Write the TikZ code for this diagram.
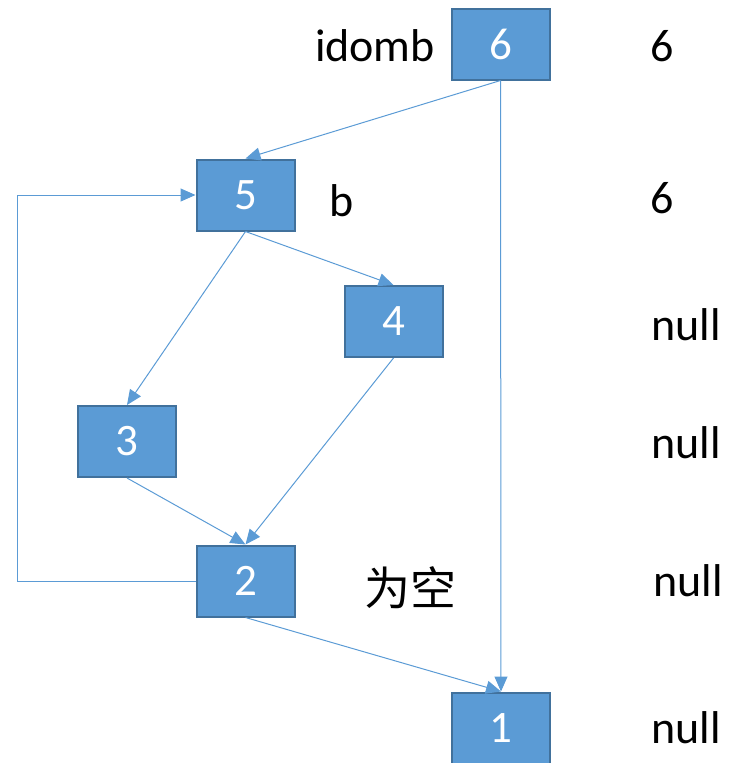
\documentclass[tikz,border=0pt]{standalone}
\usepackage{fontspec}
\setmainfont{Carlito}
\newfontfamily\cjk{Noto Sans CJK SC}
\usetikzlibrary{arrows.meta}
\definecolor{boxfill}{HTML}{5B9BD5}
\definecolor{boxedge}{HTML}{41719C}
\begin{document}
\begin{tikzpicture}[x=1pt,y=-1pt,
  blk/.style={draw=boxedge,line width=2pt,fill=boxfill,minimum width=98pt,minimum height=71pt,inner sep=0pt,text=white,font=\fontsize{45}{45}\selectfont},
  lbl/.style={font=\fontsize{46}{46}\selectfont,inner sep=0pt,anchor=center},
  conn/.style={draw=boxfill,line width=1pt,-{Triangle[length=15pt,width=13pt]}}]
\useasboundingbox (0,0) rectangle (736,763);
\node[blk] (n6) at (500.5,44) {6};
\node[blk] (n5) at (245.5,195) {5};
\node[blk] (n4) at (393.5,321.5) {4};
\node[blk] (n3) at (127,441.5) {3};
\node[blk] (n2) at (245.5,581) {2};
\node[blk] (n1) at (501,728) {1};
\node[lbl] (t1) at (375,46) {idomb};
\node[lbl] (t2) at (342,201) {b};
\node[lbl,font=\fontsize{46}{46}\selectfont\cjk] (t3) at (410,588) {为空};
\node[lbl] (r6) at (662,46) {6};
\node[lbl] (r5) at (662,198) {6};
\node[lbl] (r4) at (686,325) {null};
\node[lbl] (r3) at (686,443) {null};
\node[lbl] (r2) at (688,581) {null};
\node[lbl] (r1) at (686,728) {null};
\coordinate (c1) at (17,581);
\coordinate (c2) at (17,195);
\draw[conn] (n6.south) -- (n5.north);
\draw[conn] (n6.south) -- (n1.north);
\draw[conn] (n5.south) -- (n4.north);
\draw[conn] (n5.south) -- (n3.north);
\draw[conn] (n4.south) -- (n2.north);
\draw[conn] (n3.south) -- (n2.north);
\draw[conn] (n2.south) -- (n1.north);
\draw[conn] (n2.west) -- (c1) -- (c2) -- (n5.west);
\end{tikzpicture}
\end{document}
